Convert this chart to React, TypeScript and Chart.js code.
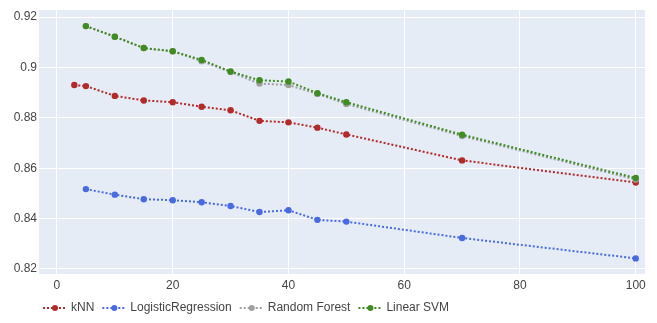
import React, { useEffect, useRef } from "react";
import { Chart, registerables } from "chart.js";

Chart.register(...registerables);

const kValues = [3, 5, 10, 15, 20, 25, 30, 35, 40, 45, 50, 70, 100];
const otherK = [5, 10, 15, 20, 25, 30, 35, 40, 45, 50, 70, 100];

const knn = [0.893, 0.8926, 0.8887, 0.8869, 0.8862, 0.8844, 0.883, 0.8788, 0.8782, 0.8761, 0.8734, 0.8631, 0.8543];
const logReg = [0.8517, 0.8495, 0.8477, 0.8473, 0.8465, 0.845, 0.8426, 0.8433, 0.8395, 0.8388, 0.8323, 0.8242];
const randomForest = [0.9164, 0.9122, 0.9077, 0.9064, 0.9025, 0.8982, 0.8936, 0.893, 0.8895, 0.8855, 0.8728, 0.8555];
const linearSvm = [0.9164, 0.9122, 0.9077, 0.9064, 0.903, 0.8984, 0.8949, 0.8944, 0.8898, 0.8862, 0.8733, 0.8561];

const seriesNames = ["kNN", "LogisticRegression", "Random Forest", "Linear SVM"];
const seriesColors = ["#b22a2a", "#4a6ae0", "#a0a0a0", "#3f8c22"];

const FONT = "'Liberation Sans', Arial, Helvetica, sans-serif";

const bgPlugin = {
  id: "plotBg",
  beforeDraw(chart: any) {
    const { ctx, chartArea } = chart;
    ctx.save();
    ctx.fillStyle = "#e5ecf6";
    ctx.fillRect(chartArea.left, chartArea.top, chartArea.right - chartArea.left, chartArea.bottom - chartArea.top);
    ctx.restore();
  },
};

const legendPlugin = {
  id: "customLegend",
  afterDraw(chart: any) {
    const { ctx, chartArea } = chart;
    ctx.save();
    ctx.font = `12px ${FONT}`;
    ctx.textBaseline = "middle";
    const y = chartArea.bottom + 34;
    let x = chartArea.left + 4;
    chart.data.datasets.forEach((ds: any) => {
      const color = ds.borderColor;
      ctx.strokeStyle = color;
      ctx.lineWidth = 2;
      ctx.setLineDash([2, 2]);
      ctx.beginPath();
      ctx.moveTo(x, y);
      ctx.lineTo(x + 24, y);
      ctx.stroke();
      ctx.setLineDash([]);
      ctx.fillStyle = color;
      ctx.beginPath();
      ctx.arc(x + 12, y, 3, 0, Math.PI * 2);
      ctx.fill();
      ctx.fillStyle = "#444";
      ctx.fillText(ds.label, x + 28, y);
      x += 28 + ctx.measureText(ds.label).width + 8;
    });
    ctx.restore();
  },
};

export default function App() {
  const ref = useRef<HTMLCanvasElement | null>(null);

  useEffect(() => {
    if (!ref.current) return;
    const mk = (xs: number[], ys: number[]) => xs.map((x, i) => ({ x, y: ys[i] }));
    const allData = [mk(kValues, knn), mk(otherK, logReg), mk(otherK, randomForest), mk(otherK, linearSvm)];
    const chart = new Chart(ref.current, {
      type: "line",
      data: {
        datasets: allData.map((d, i) => ({
          label: seriesNames[i],
          data: d,
          order: 3 - i,
          borderColor: seriesColors[i],
          backgroundColor: seriesColors[i],
          pointBackgroundColor: seriesColors[i],
          pointBorderColor: seriesColors[i],
          borderWidth: 2,
          borderDash: [2, 2],
          pointRadius: 3.2,
          pointBorderWidth: 0,
          tension: 0,
          fill: false,
        })),
      },
      options: {
        animation: false,
        responsive: true,
        maintainAspectRatio: false,
        layout: { padding: { left: 0, right: 12, top: 10, bottom: 20 } },
        plugins: { legend: { display: false }, tooltip: { enabled: false } },
        scales: {
          x: {
            type: "linear",
            min: -3.1,
            max: 101.6,
            border: { display: false },
            grid: { color: "#ffffff", lineWidth: 1, drawTicks: false },
            ticks: {
              stepSize: 20,
              includeBounds: false,
              padding: 4,
              color: "#444",
              font: { family: FONT, size: 12 },
              maxRotation: 0,
            },
            afterFit(scale: any) {
              scale.height = 29;
            },
          },
          y: {
            type: "linear",
            min: 0.818,
            max: 0.9228,
            border: { display: false },
            grid: { color: "#ffffff", lineWidth: 1, drawTicks: false },
            ticks: {
              stepSize: 0.02,
              includeBounds: false,
              padding: 2,
              color: "#444",
              font: { family: FONT, size: 12 },
              callback: (v: any) => String(parseFloat(Number(v).toFixed(3))),
            },
            afterFit(scale: any) {
              scale.width = 39;
            },
          },
        },
      },
      plugins: [bgPlugin, legendPlugin],
    } as any);
    return () => chart.destroy();
  }, []);

  return (
    <div style={{ margin: "-8px", width: 657, height: 323, position: "relative", overflow: "hidden" }}>
      <canvas ref={ref} style={{ display: "block" }} />
    </div>
  );
}
